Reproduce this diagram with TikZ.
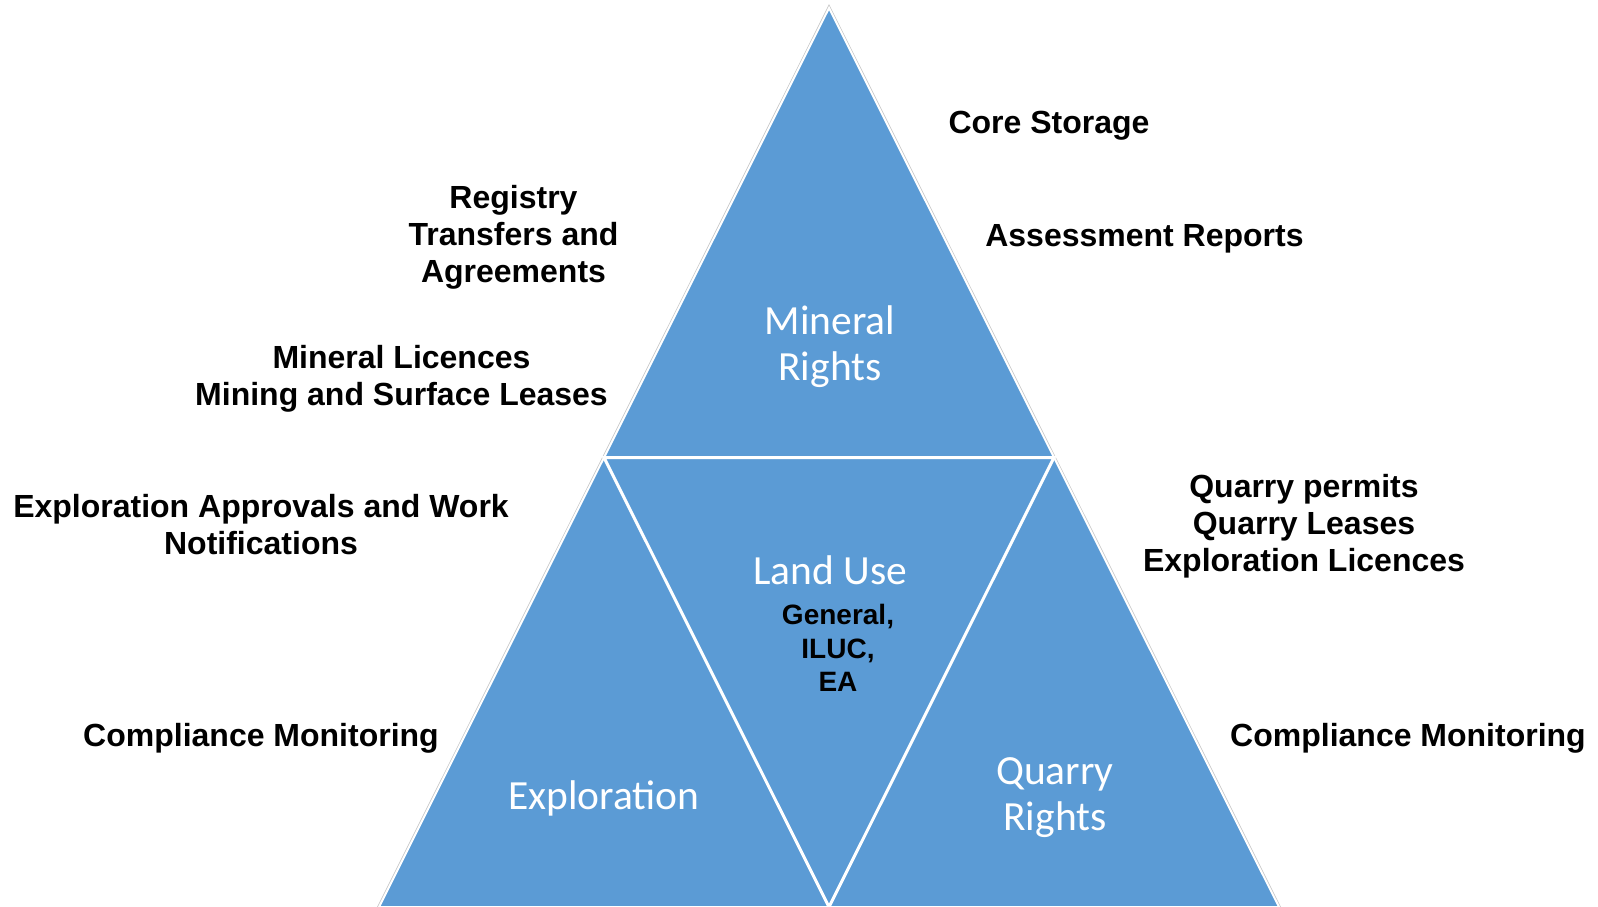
\documentclass[tikz,border=0pt]{standalone}
\usepackage{fontspec}
\setmainfont{Liberation Sans}
\newfontfamily\calibrifont{Carlito}
\definecolor{triblue}{HTML}{5B9BD5}
\begin{document}
\begin{tikzpicture}[x=1pt,y=-1pt,
  lbl/.style={font=\bfseries\fontsize{32}{37}\selectfont, align=center, inner sep=0pt, text=black},
  inlbl/.style={font=\bfseries\fontsize{28}{33.5}\selectfont, align=center, inner sep=0pt, text=black},
  wlbl/.style={font=\calibrifont\fontsize{41.5}{46}\selectfont, align=center, inner sep=0pt, text=white},
  divider/.style={draw=white, line width=3pt, line join=miter},
]
\useasboundingbox (0,0) rectangle (1598,907);
\coordinate (apex) at (829,8);
\coordinate (bl) at (379,907);
\coordinate (br) at (1279,907);
\coordinate (ml) at (604,457.5);
\coordinate (mr) at (1054,457.5);
\coordinate (mb) at (829,907);
% outer outline with soft gray edge
\draw[gray!45, line width=3.5pt, line join=miter] (apex) -- (bl) -- (br) -- cycle;
\fill[triblue] (apex) -- (bl) -- (br) -- cycle;
\draw[white, line width=2pt, line join=miter] (apex) -- (bl) -- (br) -- cycle;
% inner dividers
\draw[divider] (ml) -- (mr) -- (mb) -- cycle;

% white titles
\node[wlbl] (mineral) at (830,347) {Mineral\\Rights};
\node[wlbl] (landuse) at (830,570) {Land Use};
\node[wlbl] (explor) at (604,798) {Exploration};
\node[wlbl] (quarry) at (1055,798) {Quarry\\Rights};
\node[inlbl] (general) at (838,648) {General,\\ILUC,\\EA};

% outside labels
\node[lbl] (core) at (1049,126) {Core Storage};
\node[lbl] (assess) at (1144.5,239) {Assessment Reports};
\node[lbl] (registry) at (513.5,237.5) {Registry\\Transfers and\\Agreements};
\node[lbl] (licences) at (401.5,378.5) {Mineral Licences\\Mining and Surface Leases};
\node[lbl] (approvals) at (261,525) {Exploration Approvals and Work\\Notifications};
\node[lbl] (compl) at (261,738) {Compliance Monitoring};
\node[lbl] (qpermits) at (1304,526.5) {Quarry permits\\Quarry Leases\\Exploration Licences};
\node[lbl] (complr) at (1408,738) {Compliance Monitoring};
\end{tikzpicture}
\end{document}
